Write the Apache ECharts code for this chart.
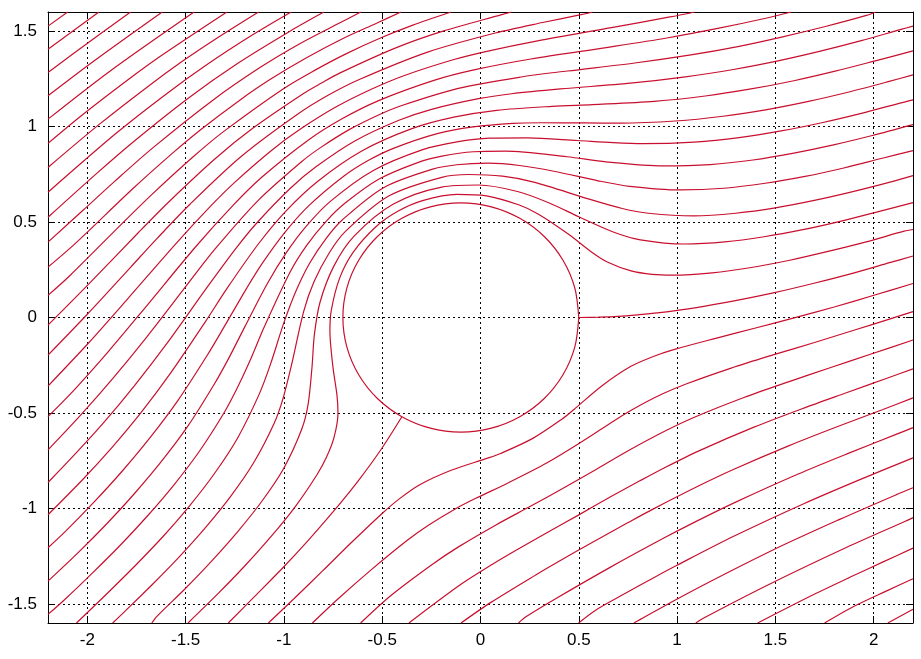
<!DOCTYPE html>
<html><head><meta charset="utf-8">
<script src="https://cdn.jsdelivr.net/npm/echarts@6/dist/echarts.min.js"></script>
<style>html,body{margin:0;padding:0;background:#fff}#c{width:921px;height:659px}</style>
</head><body><div id="c"></div>
<script>
// Axis extents
const xRange = [-2.2, 2.2];
const yRange = [-1.6, 1.6];

// Body (closed streamline)
const circle = [[0.5,0],[0.4796,0.1553],[0.4196,0.3],[0.3243,0.4243],[0.2,0.5196],[0.0553,0.5796],[-0.1,0.6],[-0.2553,0.5796],[-0.4,0.5196],[-0.5243,0.4243],[-0.6196,0.3],[-0.6796,0.1553],[-0.7,0],[-0.6796,-0.1553],[-0.6196,-0.3],[-0.5243,-0.4243],[-0.4,-0.5196],[-0.2553,-0.5796],[-0.1,-0.6],[0.0553,-0.5796],[0.2,-0.5196],[0.3243,-0.4243],[0.4196,-0.3],[0.4796,-0.1553],[0.5,0]];

// Streamlines, ordered from the upper-left corner to the lower-right corner
const line01 = [[-2.2,1.526],[-2.10,1.6]];
const line02 = [[-2.2,1.405],[-1.941,1.6]];
const line03 = [[-2.2,1.283],[-2.053,1.396],[-1.78,1.6]];
const line04 = [[-2.2,1.161],[-1.968,1.342],[-1.619,1.6]];
const line05 = [[-2.2,1.039],[-1.880,1.294],[-1.457,1.6]];
const line06 = [[-2.2,0.912],[-2.029,1.058],[-1.788,1.249],[-1.623,1.372],[-1.29,1.6]];
const line07 = [[-2.2,0.786],[-1.941,1.010],[-1.693,1.209],[-1.515,1.343],[-1.353,1.455],[-1.129,1.6]];
const line08 = [[-2.2,0.656],[-1.852,0.966],[-1.593,1.175],[-1.391,1.325],[-1.163,1.478],[-0.963,1.6]];
const line09 = [[-2.2,0.525],[-1.952,0.755],[-1.759,0.926],[-1.485,1.150],[-1.240,1.328],[-0.967,1.501],[-0.797,1.6]];
const line10 = [[-2.2,0.395],[-2.019,0.564],[-1.861,0.713],[-1.664,0.891],[-1.363,1.137],[-1.120,1.310],[-0.926,1.430],[-0.725,1.538],[-0.609,1.6]];
const line11 = [[-2.2,0.264],[-2.062,0.387],[-1.769,0.674],[-1.565,0.862],[-1.427,0.981],[-1.221,1.141],[-1.073,1.245],[-0.885,1.360],[-0.692,1.465],[-0.529,1.541],[-0.405,1.6]];
const line12 = [[-2.2,0.116],[-2.088,0.220],[-1.835,0.480],[-1.675,0.641],[-1.460,0.843],[-1.304,0.976],[-1.006,1.196],[-0.846,1.293],[-0.682,1.382],[-0.506,1.465],[-0.344,1.531],[-0.15,1.6]];
const line13 = [[-2.2,-0.04],[-1.992,0.176],[-1.741,0.444],[-1.578,0.613],[-1.347,0.834],[-1.157,0.992],[-0.902,1.172],[-0.809,1.228],[-0.714,1.281],[-0.431,1.412],[-0.199,1.497],[0.108,1.586],[0.157,1.6]];
const line14 = [[-2.2,-0.197],[-2.0,0.017],[-1.779,0.264],[-1.646,0.413],[-1.478,0.593],[-1.219,0.842],[-0.927,1.067],[-0.773,1.165],[-0.611,1.249],[-0.269,1.390],[0.075,1.490],[0.316,1.545],[0.511,1.586],[0.57,1.6]];
const line15 = [[-2.2,-0.359],[-1.995,-0.135],[-1.797,0.095],[-1.549,0.387],[-1.373,0.583],[-1.249,0.709],[-1.057,0.880],[-0.914,0.988],[-0.736,1.102],[-0.550,1.198],[-0.383,1.269],[-0.139,1.350],[0.032,1.394],[0.290,1.449],[0.666,1.518],[0.964,1.574],[1.09,1.6]];
const line16 = [[-2.2,-0.519],[-2.064,-0.376],[-1.891,-0.176],[-1.699,0.060],[-1.451,0.368],[-1.260,0.586],[-1.110,0.737],[-0.875,0.930],[-0.702,1.042],[-0.518,1.136],[-0.233,1.243],[-0.028,1.298],[0.256,1.354],[0.648,1.415],[0.948,1.464],[1.207,1.514],[1.445,1.566],[1.58,1.6]];
const line17 = [[-2.2,-0.693],[-2.034,-0.511],[-1.871,-0.320],[-1.697,-0.101],[-1.489,0.176],[-1.350,0.359],[-1.133,0.611],[-0.909,0.817],[-0.812,0.891],[-0.668,0.984],[-0.516,1.062],[-0.404,1.109],[-0.113,1.200],[0.214,1.261],[0.442,1.291],[0.785,1.333],[1.062,1.374],[1.309,1.419],[1.537,1.470],[1.754,1.524],[1.963,1.582],[2.01,1.6]];
const line18 = [[-2.2,-0.864],[-2.071,-0.725],[-1.918,-0.552],[-1.762,-0.359],[-1.594,-0.134],[-1.390,0.159],[-1.244,0.362],[-1.138,0.495],[-0.967,0.677],[-0.837,0.789],[-0.635,0.927],[-0.415,1.033],[-0.253,1.089],[-0.010,1.146],[0.159,1.172],[0.407,1.197],[0.763,1.227],[1.042,1.260],[1.287,1.299],[1.513,1.344],[1.729,1.395],[1.937,1.450],[2.139,1.509],[2.2,1.526]];
const line19 = [[-2.2,-1.033],[-2.022,-0.847],[-1.874,-0.680],[-1.726,-0.497],[-1.573,-0.286],[-1.400,-0.023],[-1.291,0.150],[-1.130,0.385],[-0.991,0.556],[-0.832,0.710],[-0.604,0.872],[-0.349,0.989],[-0.136,1.049],[0.082,1.085],[0.365,1.106],[0.569,1.115],[0.884,1.132],[1.143,1.160],[1.376,1.197],[1.594,1.240],[1.804,1.290],[2.008,1.344],[2.2,1.396]];
const line20 = [[-2.2,-1.206],[-2.110,-1.119],[-1.965,-0.966],[-1.822,-0.804],[-1.680,-0.628],[-1.537,-0.431],[-1.386,-0.191],[-1.299,-0.040],[-1.189,0.154],[-1.112,0.281],[-0.995,0.446],[-0.873,0.586],[-0.696,0.740],[-0.574,0.821],[-0.443,0.886],[-0.220,0.963],[-0.038,0.998],[0.163,1.017],[0.311,1.020],[0.534,1.019],[0.708,1.018],[0.991,1.029],[1.234,1.054],[1.457,1.089],[1.669,1.132],[1.874,1.181],[2.074,1.235],[2.2,1.271]];
const line21 = [[-2.2,-1.381],[-2.044,-1.229],[-1.901,-1.080],[-1.761,-0.923],[-1.623,-0.754],[-1.488,-0.568],[-1.353,-0.347],[-1.281,-0.214],[-1.199,-0.049],[-1.084,0.178],[-0.986,0.342],[-0.887,0.477],[-0.764,0.608],[-0.545,0.770],[-0.294,0.879],[-0.120,0.920],[0.047,0.939],[0.238,0.941],[0.492,0.927],[0.675,0.916],[0.827,0.911],[1.086,0.919],[1.315,0.942],[1.529,0.977],[1.736,1.020],[1.937,1.069],[2.134,1.123],[2.2,1.14]];
const line22 = [[-2.2,-1.555],[-2.116,-1.478],[-1.972,-1.336],[-1.830,-1.190],[-1.692,-1.037],[-1.558,-0.875],[-1.428,-0.698],[-1.302,-0.495],[-1.240,-0.375],[-1.175,-0.232],[-1.099,-0.047],[-0.967,0.241],[-0.884,0.378],[-0.783,0.506],[-0.690,0.598],[-0.518,0.724],[-0.323,0.810],[-0.196,0.845],[-0.035,0.868],[0.125,0.871],[0.440,0.842],[0.639,0.815],[0.929,0.794],[1.168,0.801],[1.386,0.825],[1.594,0.861],[1.796,0.904],[1.993,0.953],[2.2,1.01]];
const line23 = [[-2.055,-1.6],[-1.894,-1.440],[-1.753,-1.296],[-1.615,-1.147],[-1.482,-0.989],[-1.356,-0.821],[-1.236,-0.632],[-1.125,-0.400],[-1.069,-0.247],[-1.000,-0.027],[-0.938,0.140],[-0.870,0.283],[-0.783,0.417],[-0.702,0.512],[-0.493,0.680],[-0.243,0.777],[-0.120,0.800],[0.040,0.808],[0.198,0.796],[0.373,0.766],[0.598,0.716],[0.759,0.687],[1.016,0.668],[1.239,0.677],[1.448,0.703],[1.651,0.739],[1.848,0.783],[2.044,0.834],[2.2,0.874]];
const line24 = [[-1.871,-1.6],[-1.809,-1.539],[-1.668,-1.397],[-1.530,-1.251],[-1.397,-1.098],[-1.271,-0.937],[-1.154,-0.761],[-1.050,-0.555],[-1.005,-0.426],[-0.963,-0.256],[-0.899,0.033],[-0.847,0.187],[-0.769,0.339],[-0.687,0.451],[-0.467,0.636],[-0.197,0.734],[-0.059,0.749],[0.112,0.740],[0.271,0.709],[0.553,0.620],[0.721,0.571],[0.855,0.546],[1.086,0.532],[1.297,0.546],[1.500,0.574],[1.698,0.613],[1.894,0.659],[2.088,0.710],[2.2,0.743]];
const line25 = [[-1.672,-1.6],[-1.646,-1.565],[-1.505,-1.423],[-1.369,-1.277],[-1.238,-1.125],[-1.114,-0.965],[-1.002,-0.792],[-0.910,-0.587],[-0.877,-0.455],[-0.857,-0.259],[-0.845,-0.090],[-0.816,0.081],[-0.746,0.269],[-0.643,0.426],[-0.443,0.594],[-0.197,0.683],[-0.010,0.694],[0.188,0.660],[0.350,0.600],[0.503,0.526],[0.682,0.445],[0.813,0.407],[1.037,0.385],[1.243,0.396],[1.443,0.423],[1.640,0.460],[1.835,0.505],[2.029,0.556],[2.2,0.602]];
const line26 = [[-1.488,-1.6],[-1.334,-1.445],[-1.197,-1.299],[-1.066,-1.148],[-0.942,-0.990],[-0.831,-0.822],[-0.783,-0.731],[-0.745,-0.628],[-0.725,-0.500],[-0.730,-0.408],[-0.751,-0.256],[-0.766,-0.071],[-0.759,0.037],[-0.717,0.205],[-0.648,0.341],[-0.532,0.475],[-0.421,0.556],[-0.295,0.612],[-0.121,0.645],[0.031,0.637],[0.197,0.589],[0.295,0.541],[0.448,0.436],[0.568,0.341],[0.645,0.291],[0.766,0.244],[0.874,0.226],[0.978,0.222],[1.179,0.234],[1.377,0.262],[1.573,0.300],[1.768,0.346],[1.962,0.396],[2.155,0.452],[2.2,0.461]];
const line27front = [[-1.283,-1.6],[-1.150,-1.462],[-1.010,-1.316],[-0.875,-1.166],[-0.745,-1.012],[-0.621,-0.854],[-0.505,-0.690],[-0.4,-0.520]];
const line27rear = [[0.5,0],[0.6,0.002],[0.7,0.006],[0.8,0.014],[0.9,0.024],[1.099,0.052],[1.297,0.088],[1.495,0.130],[1.691,0.178],[1.887,0.230],[2.081,0.287],[2.2,0.322]];
const line28 = [[-1.079,-1.6],[-0.949,-1.473],[-0.802,-1.326],[-0.654,-1.176],[-0.499,-1.025],[-0.413,-0.950],[-0.309,-0.876],[-0.146,-0.799],[0.032,-0.738],[0.102,-0.712],[0.266,-0.633],[0.416,-0.531],[0.474,-0.483],[0.615,-0.360],[0.763,-0.257],[0.879,-0.204],[0.987,-0.167],[1.196,-0.109],[1.399,-0.055],[1.600,-0.001],[1.799,0.055],[1.997,0.115],[2.2,0.178]];
const line29 = [[-0.855,-1.6],[-0.724,-1.473],[-0.558,-1.323],[-0.374,-1.168],[-0.265,-1.088],[-0.124,-1.000],[-0.024,-0.947],[0.135,-0.869],[0.339,-0.761],[0.535,-0.638],[0.682,-0.539],[0.778,-0.479],[0.924,-0.401],[1.049,-0.347],[1.275,-0.265],[1.488,-0.196],[1.695,-0.132],[1.899,-0.067],[2.100,-0.002],[2.2,0.031]];
const line30 = [[-0.61,-1.6],[-0.457,-1.457],[-0.244,-1.292],[-0.110,-1.200],[0.081,-1.085],[0.254,-0.989],[0.418,-0.896],[0.579,-0.801],[0.749,-0.699],[0.944,-0.592],[1.091,-0.521],[1.340,-0.419],[1.566,-0.337],[1.782,-0.262],[1.991,-0.190],[2.2,-0.118]];
const line31 = [[-0.364,-1.6],[-0.103,-1.400],[0.065,-1.290],[0.183,-1.218],[0.331,-1.131],[0.498,-1.035],[0.664,-0.938],[0.813,-0.854],[0.934,-0.788],[1.114,-0.697],[1.394,-0.573],[1.635,-0.478],[1.861,-0.394],[2.078,-0.314],[2.2,-0.269]];
const line32 = [[-0.099,-1.6],[0.053,-1.492],[0.283,-1.347],[0.404,-1.274],[0.577,-1.173],[0.751,-1.074],[0.875,-1.005],[1.116,-0.879],[1.289,-0.795],[1.570,-0.671],[1.817,-0.571],[2.047,-0.482],[2.2,-0.421]];
const line33 = [[0.193,-1.6],[0.235,-1.565],[0.382,-1.473],[0.657,-1.310],[0.935,-1.154],[1.087,-1.073],[1.298,-0.967],[1.613,-0.821],[1.877,-0.709],[2.117,-0.611],[2.2,-0.577]];
const line34 = [[0.499,-1.6],[0.584,-1.534],[0.735,-1.446],[0.886,-1.360],[0.997,-1.299],[1.288,-1.146],[1.647,-0.974],[1.930,-0.849],[2.2,-0.735]];
const line35 = [[0.780,-1.6],[0.813,-1.581],[1.062,-1.440],[1.485,-1.219],[1.830,-1.056],[2.113,-0.929],[2.2,-0.892]];
const line36 = [[1.095,-1.6],[1.131,-1.576],[1.467,-1.398],[1.858,-1.206],[2.161,-1.067],[2.2,-1.048]];
const line37 = [[1.41,-1.6],[1.677,-1.460],[1.876,-1.362],[2.048,-1.280],[2.2,-1.208]];
const line38 = [[1.75,-1.6],[1.884,-1.521],[2.072,-1.429],[2.2,-1.368]];
const line39 = [[2.072,-1.6],[2.2,-1.528]];

const streamlines = [line01,line02,line03,line04,line05,line06,line07,line08,line09,line10,
  line11,line12,line13,line14,line15,line16,line17,line18,line19,line20,
  line21,line22,line23,line24,line25,line26,line27front,line27rear,line28,line29,
  line30,line31,line32,line33,line34,line35,line36,line37,line38,line39,circle];

const FONT = "'Liberation Sans', Arial, Helvetica, sans-serif";
const chart = echarts.init(document.getElementById('c'), null, {renderer: 'canvas'});

function xAxisDef(pos, labels) {
  return {
    type: 'value', position: pos, min: xRange[0], max: xRange[1], splitNumber: 9,
    axisLine: {show: true, onZero: false, lineStyle: {color: '#000', width: 1}},
    axisTick: {show: true, inside: true, length: 7, lineStyle: {color: '#000', width: 1}},
    axisLabel: {show: labels, showMinLabel: false, showMaxLabel: false, color: '#000', fontSize: 17, fontFamily: FONT, margin: 9},
    splitLine: {show: labels, lineStyle: {color: '#000', width: 1, type: [2, 3]}}
  };
}
function yAxisDef(pos, labels) {
  return {
    type: 'value', position: pos, min: yRange[0], max: yRange[1], splitNumber: 7,
    axisLine: {show: true, onZero: false, lineStyle: {color: '#000', width: 1}},
    axisTick: {show: true, inside: true, length: 7, lineStyle: {color: '#000', width: 1}},
    axisLabel: {show: labels, showMinLabel: false, showMaxLabel: false, color: '#000', fontSize: 17, fontFamily: FONT, margin: 11},
    splitLine: {show: labels, lineStyle: {color: '#000', width: 1, type: [2, 3]}}
  };
}

chart.setOption({
  animation: false,
  backgroundColor: '#fff',
  grid: {left: 48, right: 8, top: 12, bottom: 36, containLabel: false, outerBoundsMode: 'none'},
  xAxis: [xAxisDef('bottom', true), xAxisDef('top', false)],
  yAxis: [yAxisDef('left', true), yAxisDef('right', false)],
  series: streamlines.map(pts => ({
    type: 'line', xAxisIndex: 0, yAxisIndex: 0, data: pts,
    showSymbol: false, symbol: 'none', smooth: 0.3, clip: true, silent: true,
    lineStyle: {color: '#c8102e', width: 1.2}
  }))
});
</script></body></html>
